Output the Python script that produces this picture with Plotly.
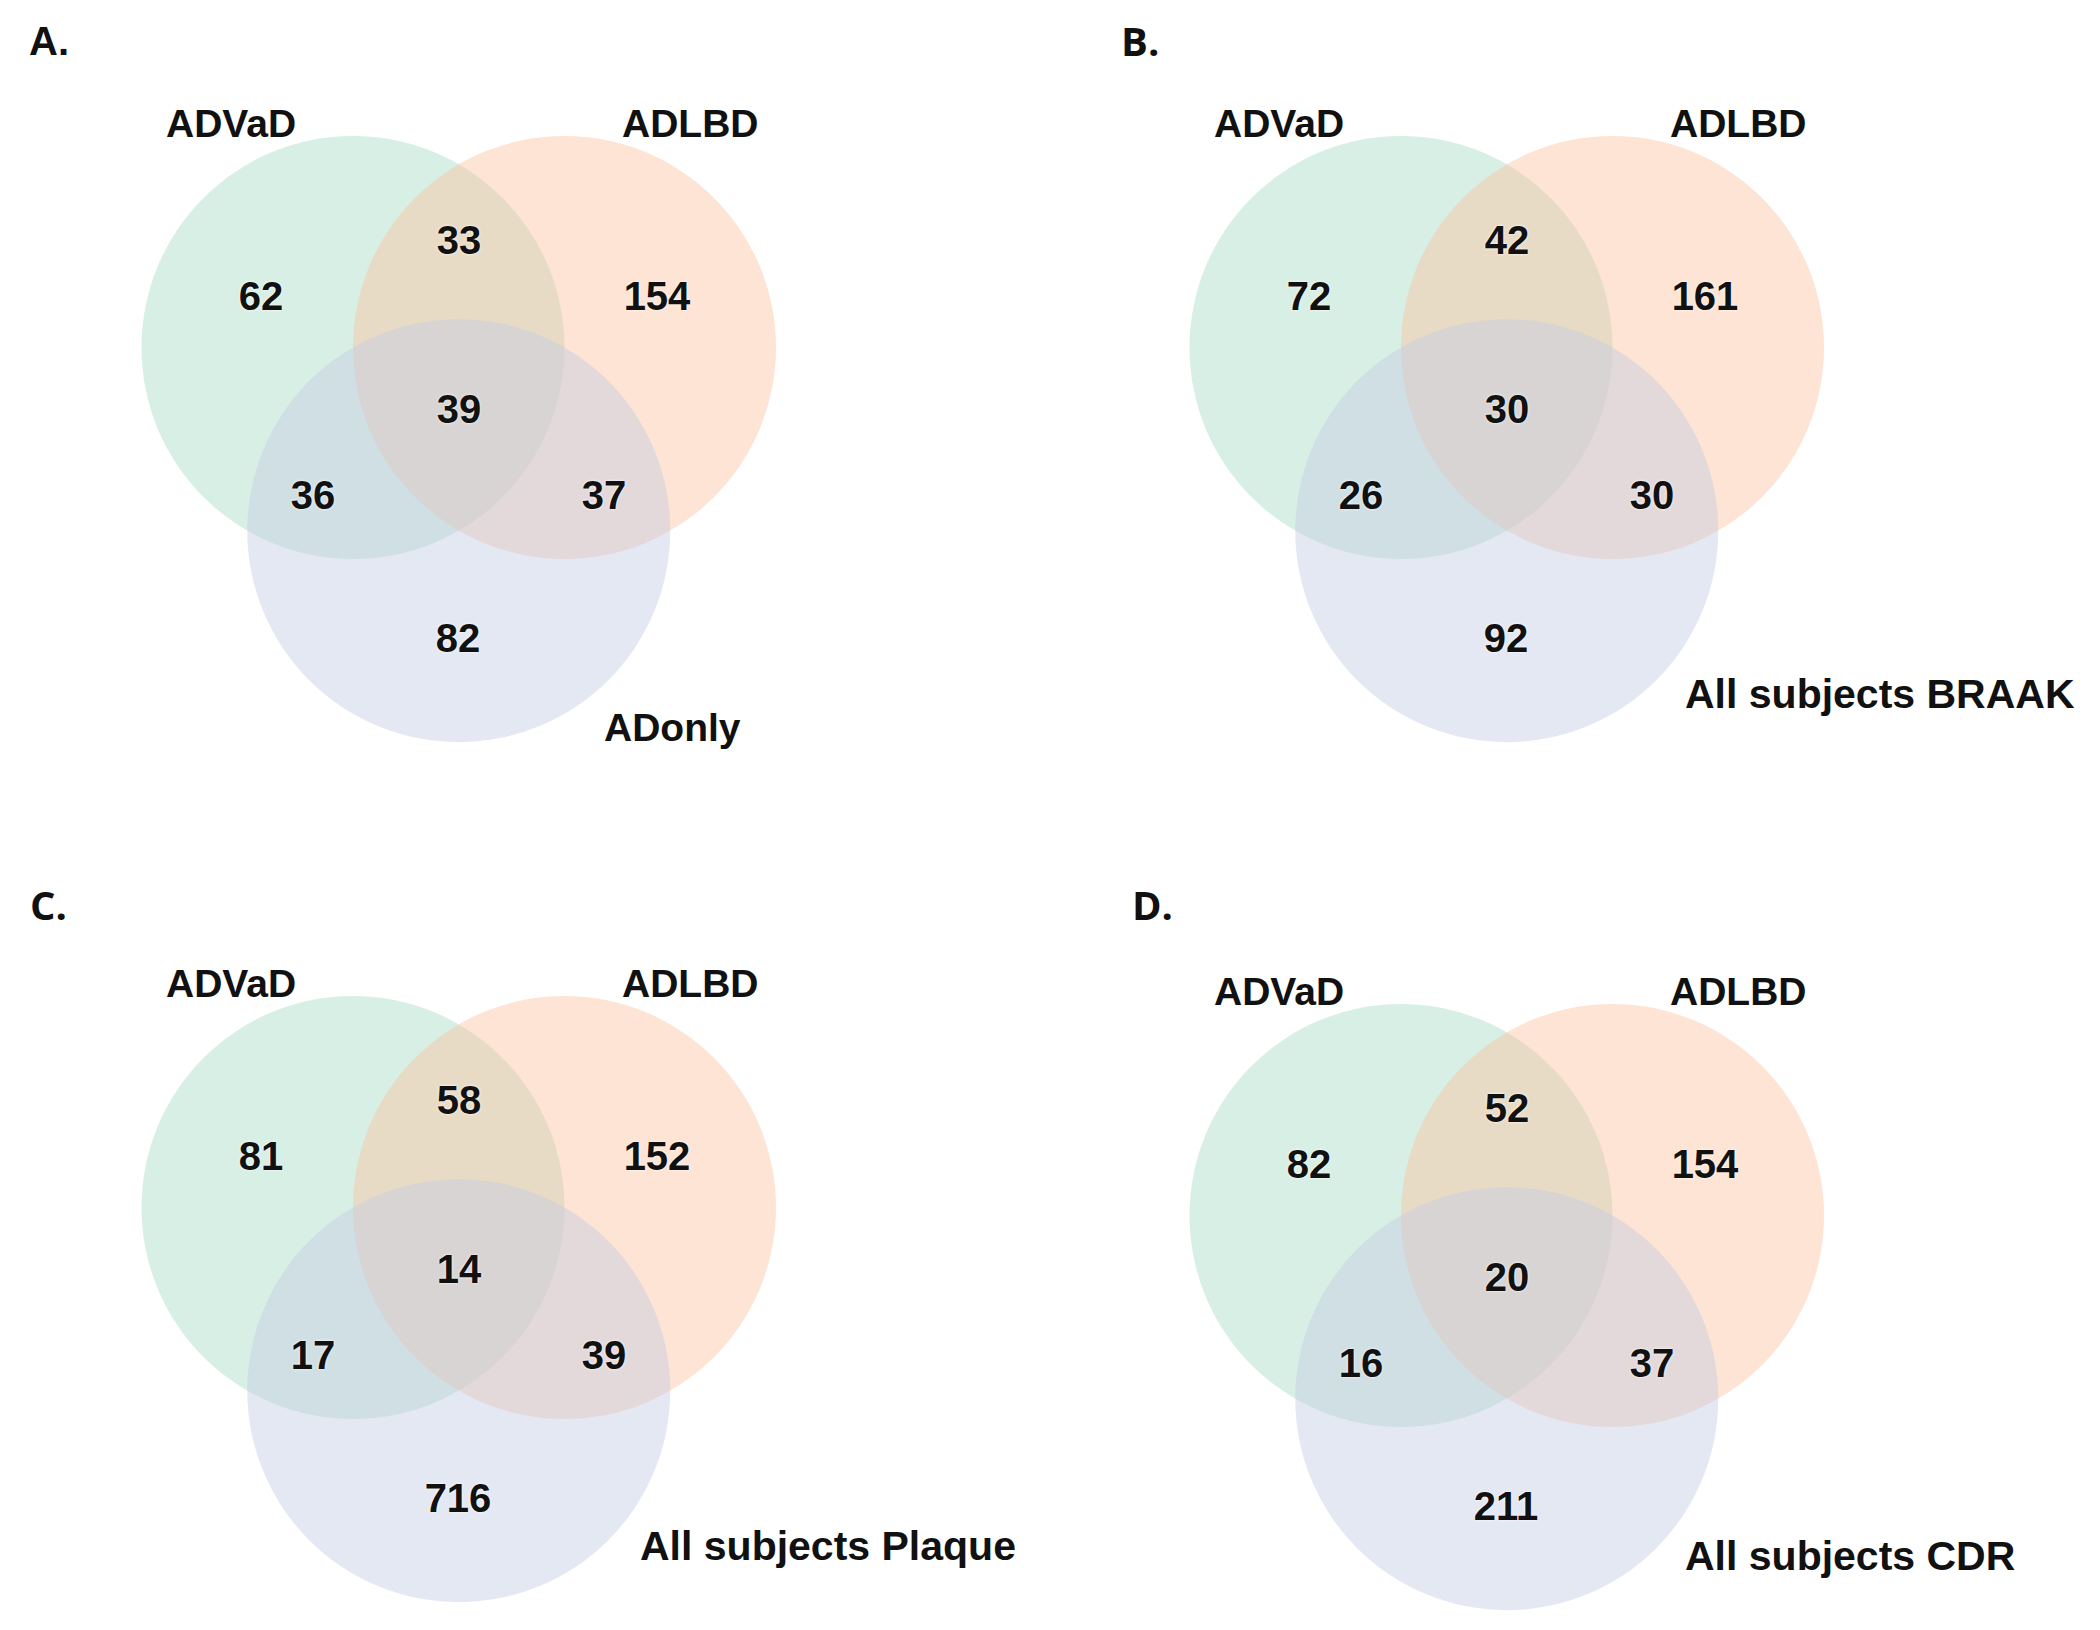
import math
import plotly.graph_objects as go

# ---------------- data ----------------
panel_letters = ["A.", "B.", "C.", "D."]
set_names = ["ADVaD", "ADLBD"]
third_set_names = ["ADonly", "All subjects BRAAK", "All subjects Plaque", "All subjects CDR"]
regions = ["ADVaD only", "ADVaD & ADLBD", "ADLBD only", "all three",
           "ADVaD & third", "ADLBD & third", "third only"]
counts_A = [62, 33, 154, 39, 36, 37, 82]
counts_B = [72, 42, 161, 30, 26, 30, 92]
counts_C = [81, 58, 152, 14, 17, 39, 716]
counts_D = [82, 52, 154, 20, 16, 37, 211]
all_counts = [counts_A, counts_B, counts_C, counts_D]

# ---------------- layout / style ----------------
W, H = 2100, 1630
R = 211.5
# green-circle centre of each panel (axis units)
panel_origin = [(353, 347.5), (1401, 347.5), (353, 1207.5), (1401, 1215.5)]
letter_pos = [(49, 41), (1140, 40), (48, 904), (1152, 904)]
letter_fonts = ["Liberation Sans", "Open Sans", "Open Sans", "Open Sans"]
# circle centres relative to the green one (classic symmetric Venn)
circle_rel = [(0, 0), (R, 0), (R / 2, R * math.sin(math.pi / 3))]
circle_colors = ["rgba(170,220,199,0.46)", "rgba(251,196,161,0.46)", "rgba(196,205,227,0.46)"]
# region-label offsets relative to green centre
region_rel = [(-92, -48), (106, -104), (304, -48), (106, 65), (-40, 151), (251, 151), (105, 294)]
set_label_rel = [(-122, -224), (337, -224)]
third_label_left = [249, 282, 285, 282]
third_label_dy = [380, 346, 338, 340]
third_label_size = [39, 41, 41, 41]

FONT = "Liberation Sans"

fig = go.Figure()

for p in range(4):
    ox, oy = panel_origin[p]
    for (dx, dy), col in zip(circle_rel, circle_colors):
        cx, cy = ox + dx, oy + dy
        fig.add_shape(type="circle", xref="x", yref="y",
                      x0=cx - R, x1=cx + R, y0=cy - R, y1=cy + R,
                      fillcolor=col, line=dict(width=0), layer="below")
    xs = [ox + d[0] for d in region_rel]
    ys = [oy + d[1] for d in region_rel]
    fig.add_trace(go.Scatter(
        x=xs, y=ys, mode="text",
        text=["<b>%d</b>" % v for v in all_counts[p]],
        textposition="middle center",
        textfont=dict(family=FONT, size=40, color="#111111",
                      shadow="0px 0px 3px #ffffff"),
        hoverinfo="skip", showlegend=False))
    # set labels
    for name, (dx, dy) in zip(set_names, set_label_rel):
        fig.add_annotation(x=ox + dx, y=oy + dy, xref="x", yref="y", text="<b>%s</b>" % name,
                           showarrow=False, xanchor="center", yanchor="middle",
                           font=dict(family=FONT, size=39, color="#111111"))
    fig.add_annotation(x=ox + third_label_left[p], y=oy + third_label_dy[p], xref="x", yref="y",
                       text="<b>%s</b>" % third_set_names[p], showarrow=False,
                       xanchor="left", yanchor="middle",
                       font=dict(family=FONT, size=third_label_size[p], color="#111111"))
    lx, ly = letter_pos[p]
    fig.add_annotation(x=lx, y=ly, xref="x", yref="y", text="<b>%s</b>" % panel_letters[p],
                       showarrow=False, xanchor="center", yanchor="middle",
                       font=dict(family=letter_fonts[p], size=40, color="#111111"))

fig.update_xaxes(range=[0, W], visible=False, fixedrange=True)
fig.update_yaxes(range=[H, 0], visible=False, fixedrange=True)
fig.update_layout(width=W, height=H, margin=dict(l=0, r=0, t=0, b=0),
                  paper_bgcolor="white", plot_bgcolor="white", showlegend=False)

fig.write_html("out.html", config={"displayModeBar": False},
               post_script="document.body.style.margin='0';document.body.style.overflow='hidden';")
